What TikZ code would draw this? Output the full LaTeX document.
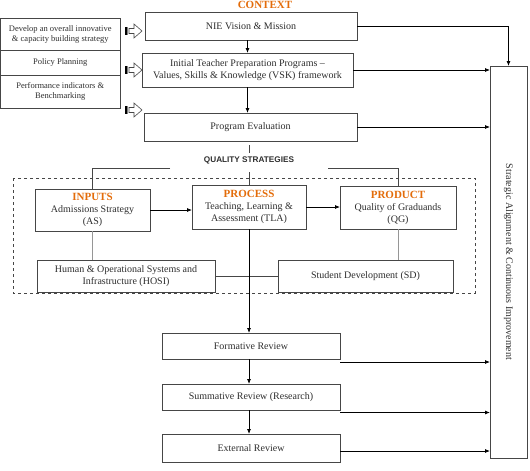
\documentclass[tikz,border=0pt]{standalone}
\usepackage{fontspec}
\setmainfont{Liberation Serif}
\setsansfont{Liberation Sans}
\usetikzlibrary{arrows.meta}

\definecolor{nieorange}{RGB}{227,108,10}
\definecolor{boxgray}{RGB}{70,70,70}
\definecolor{txtgray}{RGB}{45,45,45}
\definecolor{linkgray}{RGB}{150,150,150}

\tikzset{every picture/.style={line width=0.75pt}}
\tikzset{
  box/.style={draw=boxgray, inner sep=0pt, outer sep=0pt, align=center, text=txtgray, font=\fontsize{10}{12}\selectfont},
  leftbox/.style={box, font=\fontsize{8.5}{10}\selectfont},
  arr/.style={-{Latex[length=5pt,width=4pt]}, draw=black},
  link/.style={draw=boxgray},
  softlink/.style={draw=linkgray, line width=0.6pt},
}
\newcommand{\ttlword}[1]{{\color{nieorange}\bfseries\fontsize{11}{12}\selectfont #1}}

\begin{document}
\begin{tikzpicture}[x=1pt,y=1pt,yscale=-1,xscale=1]
		\useasboundingbox (0,0) rectangle (530,471);

		% context column
		\node [color=nieorange, font=\bfseries\fontsize{11}{12}\selectfont] (ctx) at (265,5) {CONTEXT};
		\node [box, minimum width=212, minimum height=28] (nie) at (251,26) {NIE Vision \& Mission};
		\node [box, minimum width=211, minimum height=34] (vsk) at (247.5,70) {Initial Teacher Preparation Programs --\\Values, Skills \& Knowledge (VSK) framework};
		\node [box, minimum width=213, minimum height=28] (eval) at (250.5,127) {Program Evaluation};

		% left stack
		\node [leftbox, minimum width=119.5, minimum height=32] (lb1) at (60.25,34) {Develop an overall innovative\\\& capacity building strategy};
		\node [leftbox, minimum width=119.5, minimum height=25] (lb2) at (60.25,62.5) {Policy Planning};
		\node [leftbox, minimum width=119.5, minimum height=33] (lb3) at (60.25,91.5) {Performance indicators \&\\Benchmarking};

		% striped block arrows
		\foreach \ya in {31,70,110}{
			\fill [black] (124.5,\ya-4) rectangle (126.5,\ya+4);
			\fill [gray] (127.2,\ya-4) rectangle (128.2,\ya+4);
			\draw [draw=boxgray, line width=0.6pt] (129,\ya-2.5) -- (134,\ya-2.5) -- (134,\ya-7) -- (142,\ya) -- (134,\ya+7) -- (134,\ya+2.5) -- (129,\ya+2.5) -- cycle;
		}

		% right column
		\node [box, minimum width=37, minimum height=392] (sac) at (508.5,262) {};
		\node [rotate=-90, text=txtgray, font=\fontsize{10}{12}\selectfont] (sactxt) at (508.5,262) {Strategic Alignment \& Continuous Improvement};

		% quality strategies
		\node [text=txtgray, font=\sffamily\bfseries\fontsize{8.2}{10}\selectfont] (qs) at (249,160) {QUALITY STRATEGIES};
		\draw [draw=boxgray, dashed, line width=0.7pt] (13,178) rectangle (475,293);

		\node [box, minimum width=115, minimum height=42] (inp) at (92.5,210) {\ttlword{INPUTS}\\Admissions Strategy\\(AS)};
		\node [box, minimum width=114, minimum height=44] (proc) at (249,207) {\ttlword{PROCESS}\\Teaching, Learning \&\\Assessment (TLA)};
		\node [box, minimum width=116, minimum height=43] (prod) at (398,207.5) {\ttlword{PRODUCT}\\Quality of Graduands\\(QG)};
		\node [box, minimum width=178, minimum height=32] (hosi) at (126,276) {Human \& Operational Systems and\\Infrastructure (HOSI)};
		\node [box, minimum width=175, minimum height=32] (sd) at (365.5,276) {Student Development (SD)};

		% reviews
		\node [box, minimum width=178, minimum height=26] (form) at (251,346) {Formative Review};
		\node [box, minimum width=178, minimum height=26] (summ) at (251,397) {Summative Review (Research)};
		\node [box, minimum width=178, minimum height=28] (ext) at (251,448) {External Review};

		\coordinate (qsl) at (170,168);
		\coordinate (qsr) at (328,168);
		\coordinate (qsm) at (249,172);
		\coordinate (f1) at ([yshift=3pt]form.south east);
		\coordinate (s1) at ([yshift=2.5pt]summ.south east);
		\coordinate (e1) at ([yshift=3pt]ext.east);

		% connectors
		\draw [arr] (nie.east) -| (sac.north);
		\draw [arr] (vsk.east) -- (vsk.east -| sac.west);
		\draw [arr] (eval.east) -- (eval.east -| sac.west);
		\draw [arr] (vsk.north |- nie.south) -- (vsk.north);
		\draw [arr] (vsk.south) -- (vsk.south |- eval.north);
		\draw [link, shorten <=4pt] (eval.south -| qs.north) -- (qs.north);
		\draw [link] (qsl) -| (inp.north);
		\draw [link] (qsr) -| (prod.north);
		\draw [link] (qsm) -- (proc.north);
		\draw [arr] (inp.east) -- (inp.east -| proc.west);
		\draw [arr] (proc.east) -- (proc.east -| prod.west);
		\draw [softlink] (inp.south) -- (inp.south |- hosi.north);
		\draw [softlink] (prod.south) -- (prod.south |- sd.north);
		\draw [link] (hosi.east) -- (sd.west);
		\draw [arr] (proc.south) -- (proc.south |- form.north);
		\draw [arr] (form.south -| proc.south) -- (summ.north -| proc.south);
		\draw [arr] (summ.south -| proc.south) -- (ext.north -| proc.south);
		\draw [arr] (f1) -- (f1 -| sac.west);
		\draw [arr] (s1) -- (s1 -| sac.west);
		\draw [arr] (e1) -- (e1 -| sac.west);

\end{tikzpicture}
\end{document}
